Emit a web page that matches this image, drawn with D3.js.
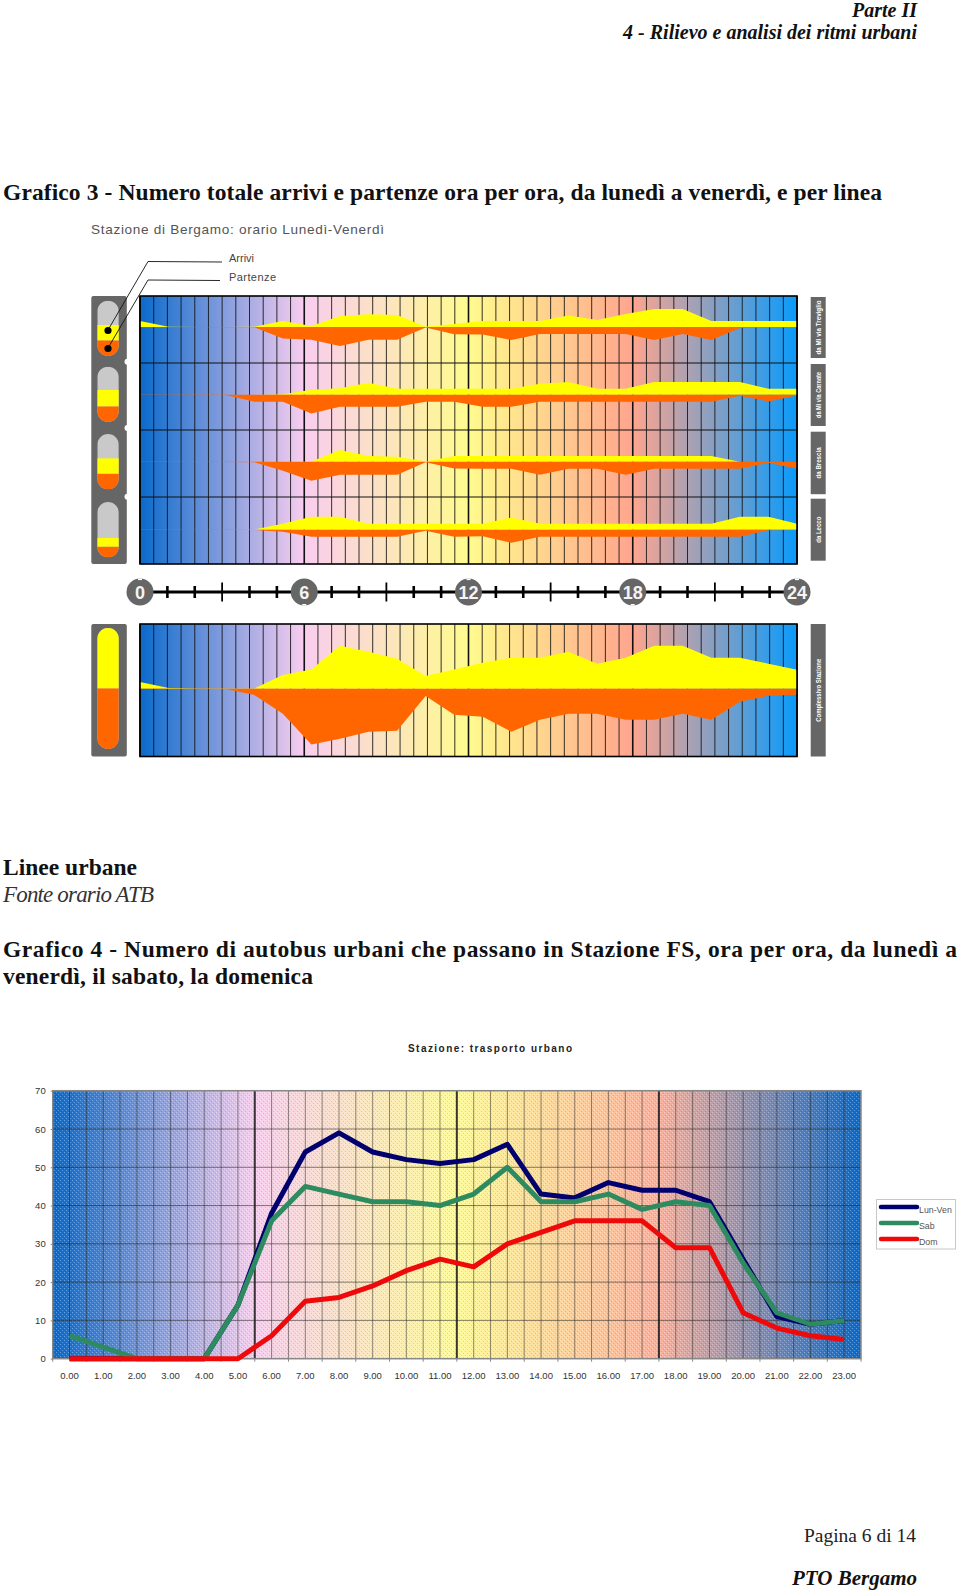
<!DOCTYPE html>
<html>
<head>
<meta charset="utf-8">
<title>Stazione di Bergamo</title>
<script src="https://cdn.jsdelivr.net/npm/d3@7"></script>
<style>
  html, body { margin: 0; padding: 0; background: #fff; }
  svg { display: block; }
  .sans { font-family: "Liberation Sans", Arial, sans-serif; }
  .serif { font-family: "Liberation Serif", "Times New Roman", serif; }
</style>
</head>
<body>
<div id="page"></div>
<script>
// Grafico 3 - values per hour (one unit = one pixel of the original)
const lineNames = ['da Mi via Treviglio', 'da Mi via Carnate', 'da Brescia', 'da Lecco'];
const totalName = 'Complessivo Stazione';

const arriviTreviglio = [6, 0.3, 0, 0, 0.3, 6, 1, 11, 12.7, 12, 0.3, 3, 6, 6, 6, 11.6, 7, 13, 18, 18, 6, 6, 6, 6];
const partenzeTreviglio = [0.3, 0.3, 0.3, 0.3, 0.3, 11.6, 12.7, 19, 12.7, 12.7, 0.5, 7.3, 7.6, 13, 7, 7, 7, 7, 13, 7, 13, 1, 0.5, 0.5];
const arriviCarnate = [0, 0, 0, 0, 0, 0.5, 5, 6.5, 12, 6, 6, 6, 6, 6, 11, 12.7, 6, 6, 12.7, 12.7, 12.7, 12.7, 6, 6];
const partenzeCarnate = [0.3, 0.3, 0.3, 0.3, 7, 7, 18.7, 12, 12, 12, 7, 7, 12, 12, 7, 7, 7, 7, 7, 7, 7, 1, 6.7, 0.7];
const arriviBrescia = [0, 0, 0, 0, 0, 0, 0.3, 11.7, 5.7, 5, 0.3, 5.7, 5.7, 5.7, 5.7, 5.7, 5.7, 5.7, 5.7, 5.7, 5.7, 0, 0, 0];
const partenzeBrescia = [0.3, 0.3, 0.3, 0.3, 0.5, 9, 19, 13, 13, 13, 0.5, 6.7, 7, 7, 13, 7, 7, 13, 7, 7, 7, 7, 1, 7];
const arriviLecco = [0, 0, 0, 0, 0.3, 6, 13, 13, 6, 6, 6, 6, 6, 12.3, 6, 6, 6, 6, 6, 6, 6, 13, 13, 6];
const partenzeLecco = [0.3, 0.3, 0.3, 0.3, 0.3, 2, 7, 7, 7, 7, 1, 7, 6.5, 13, 7, 7, 7, 7, 7, 7, 7, 7, 0.5, 0.3];
const arriviTotale = [6.7, 0.6, 0.3, 0.3, 0.3, 13.7, 19.3, 43, 37, 30, 12.7, 19.3, 26, 31, 31, 37, 25, 31, 43, 43, 31, 31, 25, 19];
const partenzeTotale = [0.3, 0.3, 0.3, 0.3, 6.3, 25, 55.7, 50, 43, 42, 7.3, 26, 28, 43, 31, 25, 25, 31, 31, 25, 31, 13, 7, 6];

// share of each pill filled with arrivals and departures
const pillArrivi = [28, 30, 28, 16];
const pillPartenze = [28, 28, 28, 19];
const pillTotale = [50, 50];

// Grafico 4 - buses per hour
const oreLabels = ['0.00', '1.00', '2.00', '3.00', '4.00', '5.00', '6.00', '7.00', '8.00', '9.00', '10.00', '11.00',
  '12.00', '13.00', '14.00', '15.00', '16.00', '17.00', '18.00', '19.00', '20.00', '21.00', '22.00', '23.00'];
const lunVen = [0, 0, 0, 0, 0, 14, 38, 54, 59, 54, 52, 51, 52, 56, 43, 42, 46, 44, 44, 41, 26, 11, 9, 10];
const sab = [6, 3, 0, 0, 0, 14, 36, 45, 43, 41, 41, 40, 43, 50, 41, 41, 43, 39, 41, 40, 25, 12, 9, 10];
const dom = [0, 0, 0, 0, 0, 0, 6, 15, 16, 19, 23, 26, 24, 30, 33, 36, 36, 36, 29, 29, 12, 8, 6, 5];
const serieNames = ['Lun-Ven', 'Sab', 'Dom'];
const serieColors = ['#00006e', '#2e8b60', '#ee0a0a'];

const timelineHours = d3.range(0, 25);
const bigHours = [0, 6, 12, 18, 24];

const svg = d3.select('#page').append('svg').attr('width', 960).attr('height', 1593);
const defs = svg.append('defs');

function addGradient(id, warm, endColor) {
  const g = defs.append('linearGradient').attr('id', id).attr('x1', 0).attr('x2', 1).attr('y1', 0).attr('y2', 0);
  [[0, '#0a6acb'], [0.25, '#f9cdef'], [0.5, '#fffb8e'], [0.75, warm], [1, endColor]].forEach(s => {
    g.append('stop').attr('offset', s[0]).attr('stop-color', s[1]);
  });
}
addGradient('sky1', '#ffa58e', '#0a9afa');
addGradient('sky2', '#ffb09a', '#0a6acb');

// stipple over the second chart
const stipple = defs.append('pattern').attr('id', 'stipple').attr('width', 4).attr('height', 4).attr('patternUnits', 'userSpaceOnUse');
[[0, 0, '#fff', 0.34], [2, 2, '#fff', 0.28], [1, 3, '#000', 0.12], [3, 1, '#000', 0.12]].forEach(p => {
  stipple.append('rect').attr('x', p[0]).attr('y', p[1]).attr('width', 1).attr('height', 1).attr('fill', p[2]).attr('opacity', p[3]);
});

function text(str, x, y, size, opts) {
  opts = opts || {};
  const t = svg.append('text').attr('class', opts.cls || 'serif').attr('x', x).attr('y', y)
    .attr('font-size', size).attr('fill', opts.fill || '#111').text(str);
  if (opts.weight) t.attr('font-weight', opts.weight);
  if (opts.italic) t.attr('font-style', 'italic');
  if (opts.anchor) t.attr('text-anchor', opts.anchor);
  if (opts.len) t.attr('textLength', opts.len).attr('lengthAdjust', 'spacing');
  return t;
}

// page text
text('Parte II', 917, 16.5, 20, { weight: 'bold', italic: true, anchor: 'end' });
text('4 - Rilievo e analisi dei ritmi urbani', 917, 38.5, 20, { weight: 'bold', italic: true, anchor: 'end' });
text('Grafico 3 - Numero totale arrivi e partenze ora per ora, da lunedì a venerdì, e per linea', 3, 200, 23.5, { weight: 'bold', len: 879 });
text('Linee urbane', 3, 875, 23.5, { weight: 'bold', len: 134 });
text('Fonte orario ATB', 3, 902, 23, { italic: true, len: 151, fill: '#333' });
text('Grafico 4 - Numero di autobus urbani che passano in Stazione FS, ora per ora, da lunedì a', 3, 957, 23.5, { weight: 'bold', len: 954 });
text('venerdì, il sabato, la domenica', 3, 984, 23.5, { weight: 'bold', len: 310 });
text('Pagina 6 di 14', 916, 1542, 19.5, { anchor: 'end', fill: '#222' });
text('PTO Bergamo', 917, 1585, 21, { weight: 'bold', italic: true, anchor: 'end' });

// ---- Grafico 3 ----
const plotLeft = 140, plotRight = 797;
const hourX = d3.scaleLinear().domain([0, 24]).range([plotLeft, plotRight]);
const pointX = d3.scaleLinear().domain([0, 23]).range([plotLeft, plotRight]);
const gridHalfHours = d3.range(0, 49);

text('Stazione di Bergamo: orario Lunedì-Venerdì', 91, 234, 13.6, { cls: 'sans', fill: '#555', len: 293 });
text('Arrivi', 229, 262, 11, { cls: 'sans', fill: '#444' });
text('Partenze', 229, 281, 11, { cls: 'sans', fill: '#444', len: 47 });

function drawPanel(top, bottom, rows, rules) {
  const g = svg.append('g');
  g.append('rect').attr('x', plotLeft).attr('y', top).attr('width', plotRight - plotLeft).attr('height', bottom - top).attr('fill', 'url(#sky1)');
  g.selectAll('.v').data(gridHalfHours).join('line')
    .attr('x1', d => hourX(d / 2)).attr('x2', d => hourX(d / 2)).attr('y1', top).attr('y2', bottom)
    .attr('stroke', '#111').attr('stroke-opacity', d => d % 12 === 0 ? 1 : 0.85).attr('stroke-width', d => d % 12 === 0 ? 1.6 : 1);
  g.selectAll('.h').data(rules).join('line')
    .attr('x1', plotLeft).attr('x2', plotRight).attr('y1', d => d).attr('y2', d => d)
    .attr('stroke', '#111').attr('stroke-width', 1);
  rows.forEach(r => {
    const y = d3.scaleLinear().domain([-60, 60]).range([r.base + 60, r.base - 60]);
    const above = d3.area().x((d, i) => pointX(i)).y0(y(0)).y1(d => y(d));
    const below = d3.area().x((d, i) => pointX(i)).y0(y(0)).y1(d => y(-d));
    g.append('path').attr('d', above(r.arrivi)).attr('fill', '#ffff00');
    g.append('path').attr('d', below(r.partenze)).attr('fill', '#ff6600');
  });
  g.append('rect').attr('x', plotLeft).attr('y', top).attr('width', plotRight - plotLeft).attr('height', bottom - top)
    .attr('fill', 'none').attr('stroke', '#000').attr('stroke-width', 1.6);
}

const bandTop = 296, bandH = 67;
const bands = [
  { arrivi: arriviTreviglio, partenze: partenzeTreviglio, base: 327 },
  { arrivi: arriviCarnate, partenze: partenzeCarnate, base: 394.7 },
  { arrivi: arriviBrescia, partenze: partenzeBrescia, base: 461.7 },
  { arrivi: arriviLecco, partenze: partenzeLecco, base: 529.7 }
];
drawPanel(bandTop, bandTop + bandH * 4, bands, [1, 2, 3].map(d => bandTop + d * bandH));
drawPanel(624, 756.5, [{ arrivi: arriviTotale, partenze: partenzeTotale, base: 688.7 }], []);

// left column with the pills
function pill(top, h, arr, par) {
  const w = 21.5, x = 97.3;
  const share = d3.scaleLinear().domain([0, 100]).range([0, h]);
  const id = 'clip' + Math.round(top);
  defs.append('clipPath').attr('id', id).append('rect').attr('x', x).attr('y', top).attr('width', w).attr('height', h).attr('rx', w / 2);
  const g = svg.append('g').attr('clip-path', `url(#${id})`);
  g.append('rect').attr('x', x).attr('y', top).attr('width', w).attr('height', h).attr('fill', '#c9c9c9');
  g.append('rect').attr('x', x).attr('y', top + h - share(par) - share(arr)).attr('width', w).attr('height', share(arr)).attr('fill', '#ffff00');
  g.append('rect').attr('x', x).attr('y', top + h - share(par)).attr('width', w).attr('height', share(par)).attr('fill', '#ff6600');
}
svg.append('rect').attr('x', 91.3).attr('y', 296).attr('width', 35.5).attr('height', 268).attr('rx', 2).attr('fill', '#666');
svg.selectAll('.notch').data([361.7, 428, 496.7]).join('circle')
  .attr('cx', 127.5).attr('cy', d => d).attr('r', 3).attr('fill', '#fff');
svg.append('rect').attr('x', 91.3).attr('y', 624).attr('width', 35.5).attr('height', 132.5).attr('rx', 2).attr('fill', '#666');
[300.7, 366.7, 434, 502].forEach((top, i) => pill(top, 55.3, pillArrivi[i], pillPartenze[i]));
pill(628, 121, pillTotale[0], pillTotale[1]);

// leader lines from the first pill to the legend
svg.append('path').attr('d', 'M108,330L148,261.5L222,262').attr('fill', 'none').attr('stroke', '#111').attr('stroke-width', 0.9);
svg.append('path').attr('d', 'M108,348L148,280L220,280.5').attr('fill', 'none').attr('stroke', '#111').attr('stroke-width', 0.9);
svg.selectAll('.dot').data([330.5, 348.5]).join('circle').attr('cx', 108).attr('cy', d => d).attr('r', 3.6).attr('fill', '#000');

// right tags
function tag(top, h, name, len) {
  svg.append('rect').attr('x', 810.7).attr('y', top).attr('width', 15).attr('height', h).attr('fill', '#666');
  const cy = top + h / 2;
  svg.append('text').attr('class', 'sans').attr('transform', `translate(820.5,${cy}) rotate(-90)`)
    .attr('text-anchor', 'middle').attr('font-size', 7).attr('font-weight', 'bold').attr('fill', '#fff')
    .attr('textLength', len).attr('lengthAdjust', 'spacingAndGlyphs').text(name);
}
tag(297, 61, lineNames[0], 54);
tag(364, 62, lineNames[1], 46);
tag(431.7, 62.5, lineNames[2], 31);
tag(498.7, 62, lineNames[3], 26);
tag(624, 132.5, totalName, 63);

// timeline 0-24
const timeY = 592;
const tl = svg.append('g');
tl.append('line').attr('x1', hourX(0)).attr('x2', hourX(24)).attr('y1', timeY).attr('y2', timeY).attr('stroke', '#000').attr('stroke-width', 3);
tl.selectAll('.tick').data(timelineHours.filter(d => d % 6 !== 0)).join('line')
  .attr('x1', d => hourX(d)).attr('x2', d => hourX(d))
  .attr('y1', d => timeY - (d % 3 === 0 ? 9.5 : 6)).attr('y2', d => timeY + (d % 3 === 0 ? 9.5 : 6))
  .attr('stroke', '#000').attr('stroke-width', d => d % 3 === 0 ? 1.8 : 2.6);
tl.selectAll('.big').data(bigHours).join('circle')
  .attr('cx', d => hourX(d)).attr('cy', timeY).attr('r', 13.5).attr('fill', '#666');
tl.selectAll('.nick').data(bigHours).join('rect')
  .attr('x', d => hourX(d) - 2).attr('y', d => (d === 6 || d === 18) ? timeY + 12 : timeY - 13.5)
  .attr('width', 4).attr('height', 1.6).attr('fill', '#fff');
tl.selectAll('.num').data(bigHours).join('text').attr('class', 'sans')
  .attr('x', d => hourX(d)).attr('y', timeY + 6.5).attr('text-anchor', 'middle')
  .attr('font-size', 18).attr('font-weight', 'bold').attr('fill', '#f4f4f4').text(d => d);

// ---- Grafico 4 ----
const c = { left: 52.7, right: 861, top: 1090.7, bottom: 1358.7 };
const x = d3.scaleBand().domain(oreLabels).range([c.left, c.right]);
const y = d3.scaleLinear().domain([0, 70]).range([c.bottom, c.top]);
const halfX = d3.scaleLinear().domain([0, 48]).range([c.left, c.right]);

text('Stazione: trasporto urbano', 408, 1052, 10, { cls: 'sans', weight: 'bold', len: 164, fill: '#222' });

svg.append('rect').attr('x', c.left).attr('y', c.top).attr('width', c.right - c.left).attr('height', c.bottom - c.top).attr('fill', 'url(#sky2)');
svg.append('rect').attr('x', c.left).attr('y', c.top).attr('width', c.right - c.left).attr('height', c.bottom - c.top).attr('fill', 'url(#stipple)');

svg.append('g').selectAll('line').data(gridHalfHours.slice(1, -1)).join('line')
  .attr('x1', d => halfX(d)).attr('x2', d => halfX(d)).attr('y1', c.top).attr('y2', c.bottom)
  .attr('stroke', '#222').attr('stroke-opacity', d => d % 12 === 0 ? 0.9 : 0.5).attr('stroke-width', d => d % 12 === 0 ? 2 : 1);
svg.append('g').selectAll('line').data(d3.range(10, 70, 10)).join('line')
  .attr('x1', c.left).attr('x2', c.right).attr('y1', d => y(d)).attr('y2', d => y(d))
  .attr('stroke', '#222').attr('stroke-opacity', 0.55).attr('stroke-width', 1);
svg.append('rect').attr('x', c.left).attr('y', c.top).attr('width', c.right - c.left).attr('height', c.bottom - c.top)
  .attr('fill', 'none').attr('stroke', '#888').attr('stroke-width', 1.5);

const yAxis = svg.append('g').attr('transform', `translate(${c.left},0)`).call(d3.axisLeft(y).tickValues(d3.range(0, 80, 10)).tickSize(2).tickPadding(5));
yAxis.select('.domain').remove();
yAxis.selectAll('line').attr('stroke', '#888');
yAxis.selectAll('text').attr('class', 'sans').attr('font-size', 9.5).attr('fill', '#333');

const xAxis = svg.append('g').attr('transform', `translate(0,${c.bottom})`).call(d3.axisBottom(x).tickSize(0).tickPadding(14));
xAxis.select('.domain').remove();
xAxis.selectAll('text').attr('class', 'sans').attr('font-size', 9.5).attr('fill', '#333');
svg.append('g').selectAll('line').data(d3.range(0, 25)).join('line')
  .attr('x1', d => halfX(d * 2)).attr('x2', d => halfX(d * 2)).attr('y1', c.bottom).attr('y2', c.bottom + 3)
  .attr('stroke', '#888');

const line = d3.line().x((d, i) => x(oreLabels[i]) + x.bandwidth() / 2).y(d => y(d)).curve(d3.curveLinear);
[lunVen, sab, dom].forEach((s, i) => {
  svg.append('path').attr('d', line(s)).attr('fill', 'none').attr('stroke', serieColors[i]).attr('stroke-width', 5).attr('stroke-linejoin', 'round');
});

// legend
const lg = svg.append('g');
lg.append('rect').attr('x', 876.5).attr('y', 1199.5).attr('width', 79).attr('height', 49.5).attr('fill', '#fff').attr('stroke', '#c8c8c8').attr('stroke-width', 1);
const ly = d3.scalePoint().domain(serieNames).range([1207, 1239]);
serieNames.forEach((n, i) => {
  lg.append('line').attr('x1', 881).attr('x2', 917).attr('y1', ly(n)).attr('y2', ly(n))
    .attr('stroke', serieColors[i]).attr('stroke-width', 4.5).attr('stroke-linecap', 'round');
  lg.append('text').attr('class', 'sans').attr('x', 919).attr('y', ly(n) + 6).attr('font-size', 8.8).attr('fill', '#555').text(n);
});
</script>
</body>
</html>
